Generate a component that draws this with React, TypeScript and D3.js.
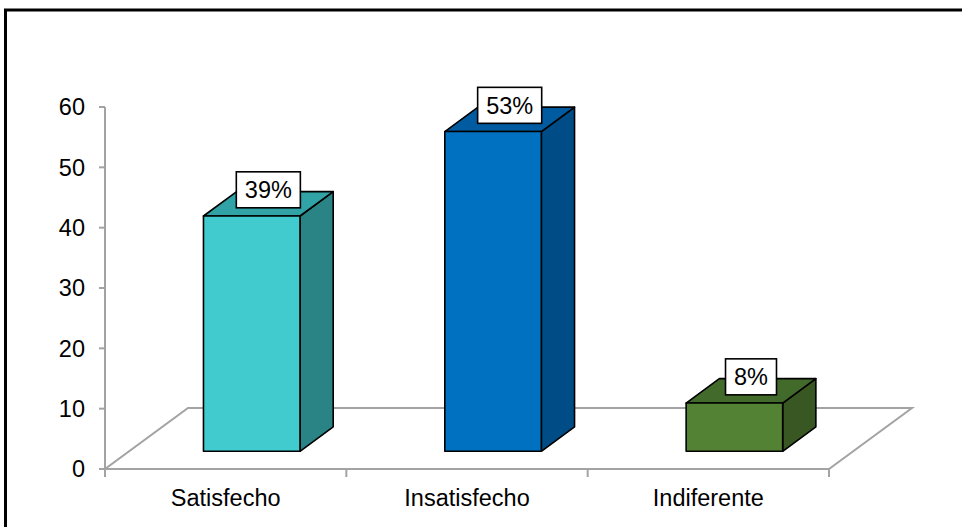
import React, { useEffect, useRef } from "react";
import * as d3 from "d3";

// Survey results: share of respondents per satisfaction level
const categories = ["Satisfecho", "Insatisfecho", "Indiferente"];
const values = [39, 53, 8];
const valueLabels = ["39%", "53%", "8%"];
const yTicks = [0, 10, 20, 30, 40, 50, 60];

const faceColors = ["#41CBCE", "#0070C0", "#548235"];
const topColors = ["#31A2A5", "#005BA0", "#426A2B"];
const sideColors = ["#2A8385", "#004C87", "#385723"];

const W = 962;
const H = 527;
const FONT = "'Liberation Sans', Arial, sans-serif";
const FONT_SIZE = 23.5;

export default function App() {
  const ref = useRef<SVGSVGElement | null>(null);

  useEffect(() => {
    const svg = d3.select(ref.current);
    svg.selectAll("*").remove();

    // plot frame (front floor edge runs from x0 to x1 at the zero line)
    const x0 = 105;
    const x1 = 829;
    const y = d3.scaleLinear().domain([0, 60]).range([469, 107]);
    const x = d3.scaleBand<string>().domain(categories).range([x0, x1]).padding(0);

    // oblique depth of the floor, and the slab of depth a bar occupies
    const floorDx = 83;
    const floorDy = -61;
    const depth = d3.scaleLinear().domain([0, 1]);
    const dxAt = (t: number) => depth.range([0, floorDx])(t);
    const dyAt = (t: number) => depth.range([0, floorDy])(t);
    const barFront = 0.29;
    const barBack = 0.69;
    const barWidthFrac = 0.4;
    const barShift = 2;

    // outer frame
    svg
      .append("rect")
      .attr("x", 5.5)
      .attr("y", 10)
      .attr("width", W + 20)
      .attr("height", H + 20)
      .attr("fill", "none")
      .attr("stroke", "#000")
      .attr("stroke-width", 3);

    const grey = "#A3A3A3";

    // floor parallelogram
    const y0 = y(0);
    svg
      .append("path")
      .attr(
        "d",
        `M${x0},${y0} L${x1},${y0} L${x1 + floorDx},${y0 + floorDy} L${x0 + floorDx},${y0 + floorDy} Z`
      )
      .attr("fill", "none")
      .attr("stroke", grey)
      .attr("stroke-width", 2);

    // value axis
    svg
      .append("line")
      .attr("x1", x0)
      .attr("x2", x0)
      .attr("y1", y(60))
      .attr("y2", y0 + 7)
      .attr("stroke", grey)
      .attr("stroke-width", 2);

    const tickG = svg.append("g");
    yTicks.forEach((t) => {
      tickG
        .append("line")
        .attr("x1", x0 - 6)
        .attr("x2", x0)
        .attr("y1", y(t))
        .attr("y2", y(t))
        .attr("stroke", grey)
        .attr("stroke-width", 2);
      tickG
        .append("text")
        .attr("x", 85)
        .attr("y", y(t))
        .attr("dy", "0.36em")
        .attr("text-anchor", "end")
        .attr("font-family", FONT)
        .attr("font-size", FONT_SIZE)
        .attr("fill", "#000")
        .text(String(t));
    });

    // category ticks on the front floor edge
    const boundaries = [x0, ...categories.map((c) => (x(c) as number) + x.bandwidth())];
    boundaries.forEach((bx) => {
      svg
        .append("line")
        .attr("x1", bx)
        .attr("x2", bx)
        .attr("y1", y0)
        .attr("y2", y0 + 8)
        .attr("stroke", grey)
        .attr("stroke-width", 2);
    });

    categories.forEach((c) => {
      svg
        .append("text")
        .attr("x", (x(c) as number) + x.bandwidth() / 2)
        .attr("y", 506)
        .attr("text-anchor", "middle")
        .attr("font-family", FONT)
        .attr("font-size", FONT_SIZE)
        .attr("fill", "#000")
        .text(c);
    });

    // 3D columns
    const bw = x.bandwidth() * barWidthFrac;
    const bdx = dxAt(barBack) - dxAt(barFront);
    const bdy = dyAt(barBack) - dyAt(barFront);

    categories.forEach((c, i) => {
      const cx = (x(c) as number) + x.bandwidth() / 2 + dxAt(barFront) + barShift;
      const left = cx - bw / 2;
      const right = cx + bw / 2;
      const bottom = y0 + dyAt(barFront);
      const top = y(values[i]) + dyAt(barFront);
      const g = svg
        .append("g")
        .attr("stroke", "#000")
        .attr("stroke-width", 1.6)
        .attr("stroke-linejoin", "round");

      // side face
      g.append("path")
        .attr(
          "d",
          `M${right},${bottom} L${right + bdx},${bottom + bdy} L${right + bdx},${top + bdy} L${right},${top} Z`
        )
        .attr("fill", sideColors[i]);
      // top face
      g.append("path")
        .attr(
          "d",
          `M${left},${top} L${right},${top} L${right + bdx},${top + bdy} L${left + bdx},${top + bdy} Z`
        )
        .attr("fill", topColors[i]);
      // front face
      g.append("rect")
        .attr("x", left)
        .attr("y", top)
        .attr("width", bw)
        .attr("height", bottom - top)
        .attr("fill", faceColors[i]);

      // value label box centred above the top face
      const lx = cx + bdx / 2;
      const ly = top + bdy / 2 - 14;
      const lg = svg.append("g");
      const rect = lg
        .append("rect")
        .attr("fill", "#fff")
        .attr("stroke", "#000")
        .attr("stroke-width", 1.6);
      const txt = lg
        .append("text")
        .attr("x", lx)
        .attr("y", ly)
        .attr("dy", "0.36em")
        .attr("text-anchor", "middle")
        .attr("font-family", FONT)
        .attr("font-size", FONT_SIZE)
        .attr("fill", "#000")
        .text(valueLabels[i]);
      const tw = (txt.node() as SVGTextElement).getComputedTextLength();
      const bwBox = tw + 17;
      const bhBox = 36;
      rect
        .attr("x", lx - bwBox / 2)
        .attr("y", ly - bhBox / 2)
        .attr("width", bwBox)
        .attr("height", bhBox);
    });
  }, []);

  return (
    <svg
      ref={ref}
      width={W}
      height={H}
      style={{ position: "absolute", left: 0, top: 0, background: "#fff" }}
    />
  );
}
